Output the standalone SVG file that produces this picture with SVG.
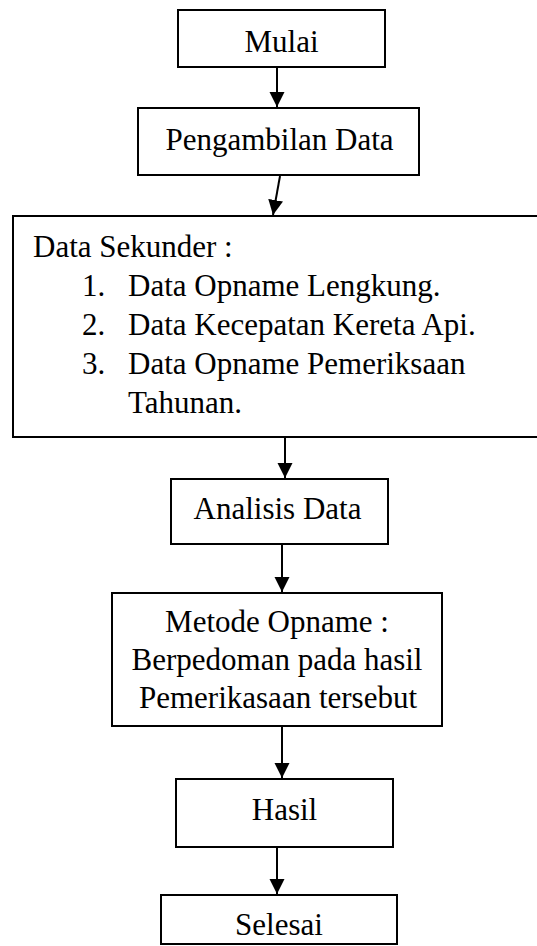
<svg xmlns="http://www.w3.org/2000/svg" width="537" height="946" viewBox="0 0 537 946">
<style>
.box{fill:#fff;stroke:#000;stroke-width:2}
.t{font-family:"Liberation Serif","Times New Roman",serif;font-size:31px;fill:#000}
.c{text-anchor:middle}
.edge{stroke:#000;stroke-width:2;fill:none;marker-end:url(#ah)}
</style>
<defs>
<marker id="ah" markerUnits="userSpaceOnUse" markerWidth="16" markerHeight="16" refX="15" refY="7.5" orient="auto">
<path d="M0,0 L15,7.5 L0,15 Z" fill="#000"/>
</marker>
</defs>
<rect width="537" height="946" fill="#fff"/>
<g id="connectors">
<line class="edge" x1="277" y1="68" x2="277" y2="107"/>
<line class="edge" x1="280" y1="176" x2="273" y2="215"/>
<line class="edge" x1="285" y1="438" x2="285" y2="478"/>
<line class="edge" x1="282" y1="545" x2="282" y2="592"/>
<line class="edge" x1="282" y1="727" x2="282" y2="778"/>
<line class="edge" x1="277" y1="848" x2="277" y2="894"/>
</g>
<g id="mulai">
<rect class="box" x="178" y="10" width="207" height="57"/>
<text class="t c" x="281.5" y="52">Mulai</text>
</g>
<g id="pengambilan">
<rect class="box" x="138" y="108" width="281" height="67"/>
<text class="t c" x="279.5" y="150">Pengambilan Data</text>
</g>
<g id="sekunder">
<rect class="box" x="13" y="216" width="540" height="221"/>
<text class="t" x="33" y="257">Data Sekunder :</text>
<text class="t" x="82" y="296">1.</text>
<text class="t" x="128" y="296">Data Opname Lengkung.</text>
<text class="t" x="82" y="335">2.</text>
<text class="t" x="128" y="335">Data Kecepatan Kereta Api.</text>
<text class="t" x="82" y="374">3.</text>
<text class="t" x="128" y="374">Data Opname Pemeriksaan</text>
<text class="t" x="128" y="413">Tahunan.</text>
</g>
<g id="analisis">
<rect class="box" x="171" y="479" width="217" height="65"/>
<text class="t c" x="277.5" y="519">Analisis Data</text>
</g>
<g id="metode">
<rect class="box" x="112" y="593" width="330" height="133"/>
<text class="t c" x="277" y="632">Metode Opname :</text>
<text class="t c" x="277" y="670">Berpedoman pada hasil</text>
<text class="t c" x="278" y="708">Pemerikasaan tersebut</text>
</g>
<g id="hasil">
<rect class="box" x="176" y="779" width="217" height="68"/>
<text class="t c" x="284.5" y="820">Hasil</text>
</g>
<g id="selesai">
<rect class="box" x="161" y="895" width="236" height="49"/>
<text class="t c" x="279" y="935">Selesai</text>
</g>
</svg>
